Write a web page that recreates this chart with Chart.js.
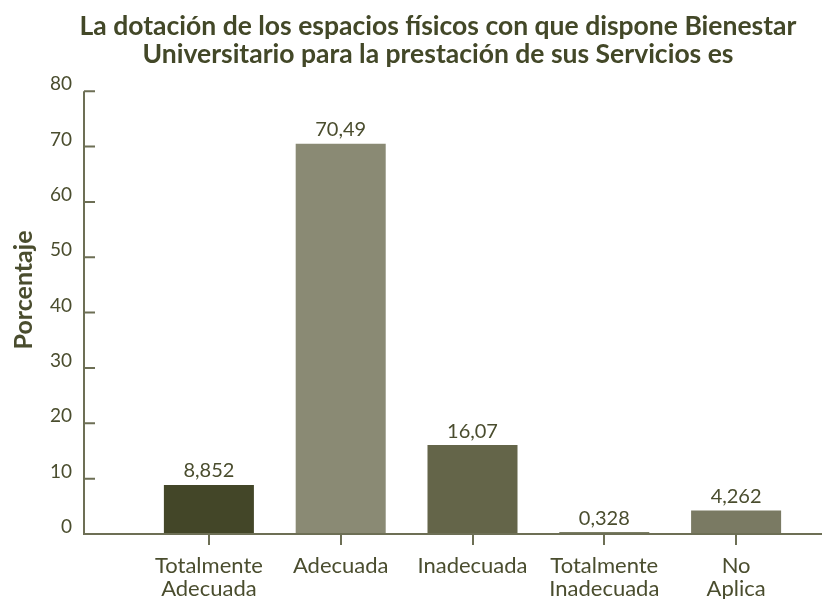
<!DOCTYPE html>
<html>
<head>
<meta charset="utf-8">
<script src="https://cdn.jsdelivr.net/npm/chart.js@4"></script>
<style>
  html, body { margin: 0; padding: 0; background: #fff; }
  canvas { display: block; }
</style>
</head>
<body>
<canvas id="chart" width="822" height="599"></canvas>
<script>
const categories = [['Totalmente', 'Adecuada'], 'Adecuada', 'Inadecuada', ['Totalmente', 'Inadecuada'], ['No', 'Aplica']];
const values = [8.852, 70.49, 16.07, 0.328, 4.262];
const barColors = ['#434628', '#8a8a74', '#646549', '#4e5232', '#7a7a63'];
const yTicks = [0, 10, 20, 30, 40, 50, 60, 70, 80];

const TEXT = '#4a4d2e';
const AXIS = '#6d6f55';
const FONT = 'Lato, "Open Sans", sans-serif';

// axis lines, inside y ticks, y title and value labels
const decorations = {
    id: 'decorations',
    afterLayout(chart) {
        // title sits a bit right of the page centre in the original
        chart.titleBlock.left = 74;
    },
    afterDatasetsDraw(chart) {
        const { ctx, chartArea, scales } = chart;
        const y = scales.y;
        const axisX = chartArea.left - 59;
        const bottom = y.getPixelForValue(0);
        ctx.save();
        ctx.strokeStyle = AXIS;
        ctx.lineWidth = 2;
        ctx.beginPath();
        ctx.moveTo(axisX, y.getPixelForValue(yTicks[yTicks.length - 1]));
        ctx.lineTo(axisX, bottom);
        ctx.lineTo(chart.width, bottom);
        yTicks.forEach(t => {
            const py = y.getPixelForValue(t);
            ctx.moveTo(axisX, py);
            ctx.lineTo(axisX + 11, py);
        });
        ctx.stroke();

        ctx.fillStyle = TEXT;
        ctx.font = 'bold 25px ' + FONT;
        ctx.textAlign = 'center';
        ctx.textBaseline = 'middle';
        ctx.save();
        ctx.translate(24, 290);
        ctx.rotate(-Math.PI / 2);
        ctx.fillText('Porcentaje', 0, 0);
        ctx.restore();

        ctx.font = '20px ' + FONT;
        const meta = chart.getDatasetMeta(0);
        meta.data.forEach((bar, i) => {
            ctx.fillText(String(values[i]).replace('.', ','), bar.x, bar.y - 14);
        });
        ctx.restore();
    }
};

new Chart(document.getElementById('chart'), {
    type: 'bar',
    data: {
        labels: categories,
        datasets: [{
            data: values,
            backgroundColor: barColors,
            borderWidth: 0,
            barPercentage: 0.683,
            categoryPercentage: 1
        }]
    },
    options: {
        responsive: false,
        animation: false,
        layout: { padding: { left: 0, right: 20, top: 0, bottom: 0 } },
        plugins: {
            legend: { display: false },
            tooltip: { enabled: false },
            title: {
                display: true,
                text: ['La dotación de los espacios físicos con que dispone Bienestar',
                       'Universitario para la prestación de sus Servicios es'],
                color: '#434828',
                font: { family: FONT, size: 26.5, weight: 'bold', lineHeight: 1.06 },
                padding: { top: 12, bottom: 23 }
            }
        },
        scales: {
            x: {
                border: { display: false },
                grid: { display: true, drawOnChartArea: false, offset: false, tickLength: 11, color: AXIS, lineWidth: 2 },
                ticks: { color: TEXT, padding: 9, maxRotation: 0, font: { family: FONT, size: 22, lineHeight: 1.05 } },
                afterFit(scale) { scale.height = 65; }
            },
            y: {
                min: 0,
                max: 80,
                border: { display: false },
                grid: { display: false },
                ticks: { stepSize: 10, color: TEXT, padding: 63, labelOffset: -7, font: { family: FONT, size: 19 } },
                afterFit(scale) {
                    scale.width = 143;
                    // the wide label gap should not push the plot edges
                    scale.paddingTop = 0;
                    scale.paddingBottom = 0;
                }
            }
        }
    },
    plugins: [decorations]
});
</script>
</body>
</html>
